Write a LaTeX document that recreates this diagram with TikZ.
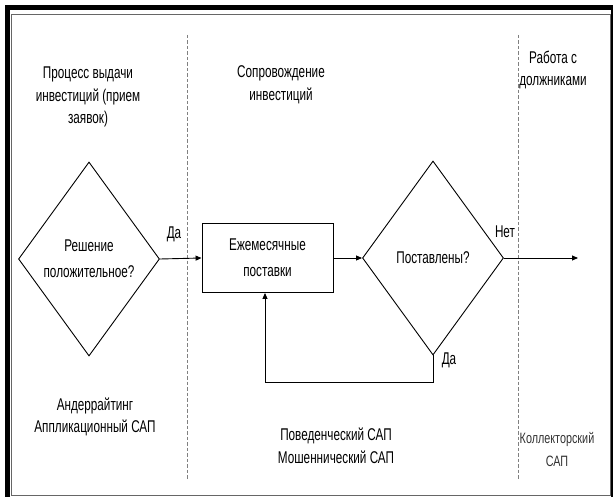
\documentclass[tikz,border=0pt]{standalone}
\usepackage{fontspec}
\setmainfont{Liberation Sans}[FakeStretch=0.69]
\newfontfamily\thinfont{Liberation Sans}[FakeStretch=0.72]
\usetikzlibrary{shapes.geometric,arrows.meta}
\tikzset{
  txt/.style={align=center, inner sep=0pt, font=\fontsize{17}{22.5}\selectfont},
  small/.style={align=center, inner sep=0pt, text=black!80, font=\thinfont\fontsize{15}{23}\selectfont},
  dec/.style={diamond, draw, line width=0.9pt, minimum width=141pt, minimum height=194pt,
              inner sep=0pt, align=center, font=\fontsize{17}{26}\selectfont},
  stepbox/.style={rectangle, draw, line width=0.9pt, minimum width=131pt, minimum height=69pt,
              inner sep=0pt, align=center, font=\fontsize{17}{26}\selectfont},
  arr/.style={line width=0.9pt, -{Triangle[length=6pt,width=5pt]}},
  lane/.style={gray, line width=1pt, dash pattern=on 3.5pt off 2pt},
}
\begin{document}
\begin{tikzpicture}[x=1pt,y=-1pt]
\useasboundingbox (0,0) rectangle (613,497);
% frame
\draw[gray!80!black, line width=1.5pt] (11.5,14.5) rectangle (610.5,495.5);
\draw[line width=5pt] (7.5,497) -- (7.5,7.5) -- (613,7.5);
\draw[line width=2pt] (612,7.5) -- (612,497);
% lane separators
\coordinate (s1t) at (187,35); \coordinate (s1b) at (187,480);
\coordinate (s2t) at (518,35); \coordinate (s2b) at (518,480);
\draw[lane] (s1t) -- (s1b);
\draw[lane] (s2t) -- (s2b);
% lane titles
\node[txt] (h1) at (88,97) {Процесс выдачи\\инвестиций (прием\\заявок)};
\node[txt] (h2) at (281,85) {Сопровождение\\инвестиций};
\node[txt] (h3) at (553,70) {Работа с\\должниками};
% flow
\node[dec] (d1) at (89,259) {Решение\\положительное?};
\node[stepbox] (b) at (267.5,258) {Ежемесячные\\поставки};
\node[dec] (d2) at (433,258) {Поставлены?};
\coordinate (out) at (578,258);
\coordinate (lp) at (265,382);
\draw[arr] (d1.east) -- (b.west);
\draw[arr] (b.east) -- (d2.west);
\draw[arr] (d2.east) -- (out);
\draw[arr] (d2.south) |- (lp) -- (lp |- b.south);
\node[txt] (yes1) at (174,234) {Да};
\node[txt] (no) at (505,232) {Нет};
\node[txt] (yes2) at (449,360) {Да};
% lane footers
\node[txt] (f1) at (95,417) {Андеррайтинг\\Аппликационный САП};
\node[txt] (f2) at (336,446) {Поведенческий САП\\Мошеннический САП};
\node[small] (f3) at (557,450) {Коллекторский\\САП};
\end{tikzpicture}
\end{document}
